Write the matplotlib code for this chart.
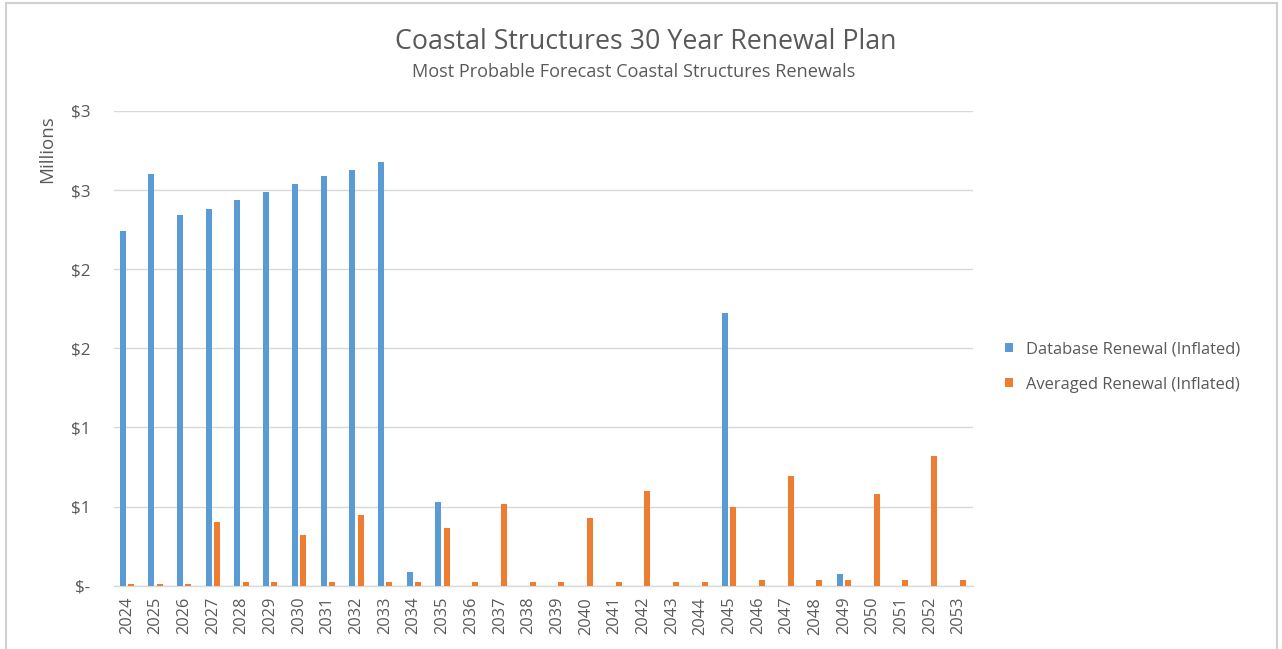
import matplotlib
matplotlib.use('Agg')
import matplotlib.pyplot as plt
from matplotlib.patches import Rectangle

plt.rcParams['font.family'] = ['Open Sans', 'DejaVu Sans']

years = [str(y) for y in range(2024, 2054)]

# values in millions
database_renewal = [2.24, 2.60, 2.34, 2.38, 2.44, 2.49, 2.54, 2.59, 2.63, 2.68,
                    0.085, 0.53, 0, 0, 0, 0, 0, 0, 0, 0,
                    0, 1.724, 0, 0, 0, 0.074, 0, 0, 0, 0]
averaged_renewal = [0.013, 0.013, 0.013, 0.403, 0.021, 0.021, 0.321, 0.021, 0.446, 0.021,
                    0.021, 0.363, 0.021, 0.517, 0.021, 0.021, 0.426, 0.021, 0.599, 0.021,
                    0.021, 0.496, 0.034, 0.694, 0.034, 0.034, 0.580, 0.034, 0.819, 0.034]

y_ticks = [0, 0.5, 1.0, 1.5, 2.0, 2.5, 3.0]
y_tick_labels = ['$-', '$1', '$1', '$2', '$2', '$3', '$3']

blue = '#5B9BD5'
orange = '#ED7D31'
text_gray = '#595959'

W, H = 1282, 649
fig = plt.figure(figsize=(W / 100, H / 100), dpi=100)
ax = fig.add_axes([114 / W, 1 - 585.7 / H, 859 / W, (585.7 - 111) / H])

x = list(range(len(years)))
bw = 0.21
ax.bar([i - 0.145 for i in x], database_renewal, width=bw, color=blue,
       label='Database Renewal (Inflated)', zorder=3)
ax.bar([i + 0.145 for i in x], averaged_renewal, width=bw, color=orange,
       label='Averaged Renewal (Inflated)', zorder=3)

ax.set_xlim(-0.45, len(years) - 0.5)
ax.set_ylim(0, 3.0)
ax.set_yticks(y_ticks)
ax.set_yticklabels(y_tick_labels)
ax.set_xticks(x)
ax.set_xticklabels(years, rotation=90)

ax.tick_params(axis='y', length=0, pad=17, labelsize=12.3, labelcolor=text_gray)
ax.tick_params(axis='x', length=0, pad=8, labelsize=11.8, labelcolor=text_gray)

ax.grid(axis='y', color='#d9d9d9', linewidth=1, zorder=0)
for s in ['top', 'right', 'left']:
    ax.spines[s].set_visible(False)
ax.spines['bottom'].set_color('#d9d9d9')
ax.spines['bottom'].set_linewidth(1)

fig.text(47 / W, 1 - 149 / H, 'Millions', rotation=90, ha='center', va='center',
         fontsize=13.5, color=text_gray)

fig.text(646 / W, 1 - 42 / H, 'Coastal Structures 30 Year Renewal Plan',
         ha='center', va='center', fontsize=19.3, color=text_gray)
fig.text(634 / W, 1 - 72 / H, 'Most Probable Forecast Coastal Structures Renewals',
         ha='center', va='center', fontsize=13.1, color=text_gray)

leg = fig.legend(loc='center left', bbox_to_anchor=(990 / W, 1 - 367 / H),
                 frameon=False, fontsize=11.9, handlelength=0.5, handleheight=0.5,
                 handletextpad=0.75, labelspacing=1.15)
for t in leg.get_texts():
    t.set_color(text_gray)

# chart border
fig.patches.append(Rectangle((6 / W, -0.1), (1277 - 6) / W, 1.1 - 3.5 / H,
                             transform=fig.transFigure, fill=False,
                             edgecolor='#d0d0d0', linewidth=1.5))

fig.savefig('out.png', dpi=100)
